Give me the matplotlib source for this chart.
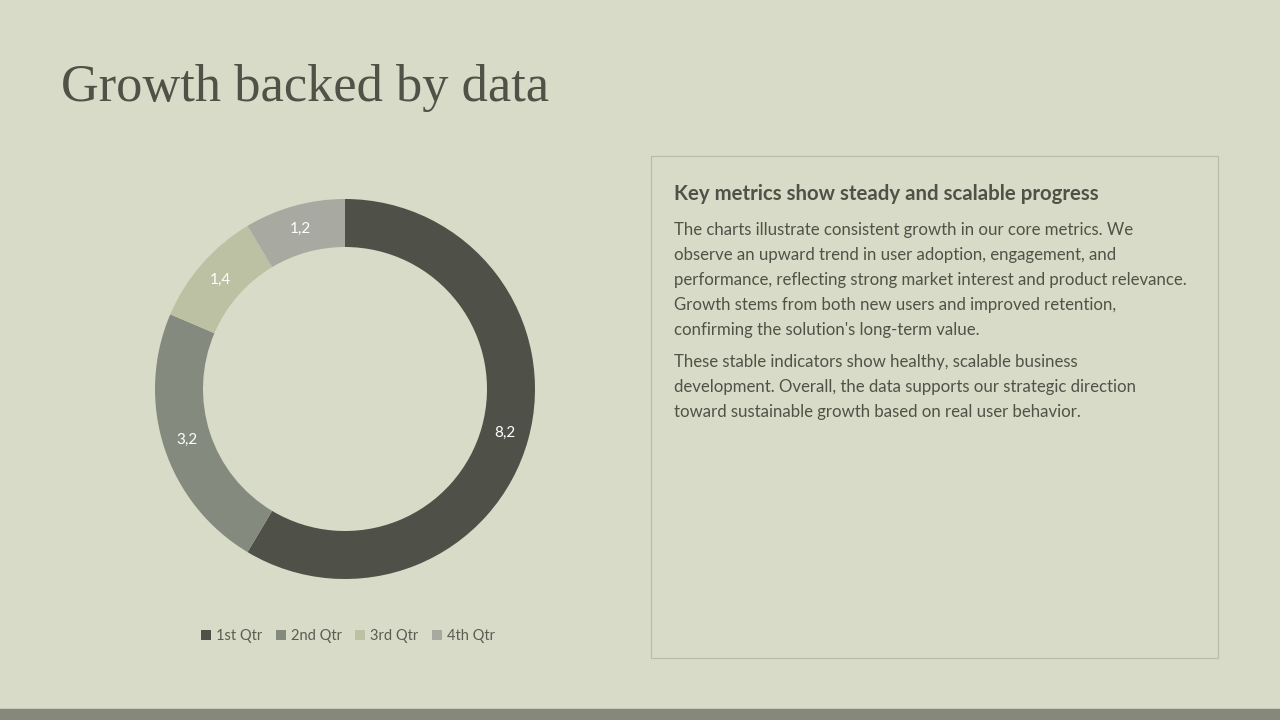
import matplotlib
matplotlib.use("Agg")
import matplotlib.pyplot as plt
from matplotlib.patches import Rectangle

BG, DARK, BORDER = "#d8dbc7", "#4f5246", "#b9bcaa"

quarters = ["1st Qtr", "2nd Qtr", "3rd Qtr", "4th Qtr"]
sales = [8.2, 3.2, 1.4, 1.2]
colors = ["#4f5047", "#858a7e", "#bcc1a3", "#a8a9a0"]

title = "Growth backed by data"
heading = "Key metrics show steady and scalable progress"
para1 = ["The charts illustrate consistent growth in our core metrics. We",
         "observe an upward trend in user adoption, engagement, and",
         "performance, reflecting strong market interest and product relevance.",
         "Growth stems from both new users and improved retention,",
         "confirming the solution's long-term value."]
para2 = ["These stable indicators show healthy, scalable business",
         "development. Overall, the data supports our strategic direction",
         "toward sustainable growth based on real user behavior."]

W, H = 1280, 720
SANS = "Lato"
fig = plt.figure(figsize=(12.8, 7.2), dpi=100, facecolor=BG)

def fx(x): return x / W
def fy(y): return 1 - y / H

# bottom band
fig.patches.append(Rectangle((0, 0), 1, fy(709), transform=fig.transFigure,
                             color="#85887b", zorder=0))

fig.text(fx(61), fy(101), title, family="Liberation Serif", fontsize=37.7,
         color=DARK, va="baseline")

# donut
cx, cy, R = 345, 389, 190
ax = fig.add_axes([fx(cx - R), fy(cy + R), 2 * R / W, 2 * R / H])
total = sum(sales)
wedges, _, autot = ax.pie(
    sales, colors=colors, startangle=90, counterclock=False,
    wedgeprops=dict(width=48 / R, linewidth=0),
    autopct=lambda p: f"{p * total / 100:.1f}".replace(".", ","),
    pctdistance=(R - 24) / R,
    textprops=dict(color="white", fontsize=11, family=SANS))
ax.set_xlim(-1, 1); ax.set_ylim(-1, 1)
ax.set_aspect("equal")

fig.legend(wedges, quarters, loc="center", bbox_to_anchor=(fx(348), fy(636)),
           ncol=4, frameon=False, handlelength=0.7, handleheight=0.7,
           handletextpad=0.35, columnspacing=0.9,
           prop=dict(family=SANS, size=10.5), labelcolor="#5a5d52")

# text box
fig.patches.append(Rectangle((fx(651), fy(658)), fx(1218 - 651), (658 - 156) / H,
                             transform=fig.transFigure, fill=False,
                             edgecolor=BORDER, linewidth=0.9))
fig.text(fx(674), fy(194), heading, family=SANS, fontsize=14.7,
         fontweight="bold", color=DARK, va="center")
for i, line in enumerate(para1):
    fig.text(fx(674), fy(230 + 25 * i), line, family=SANS, fontsize=12.1,
             color=DARK, va="center")
for i, line in enumerate(para2):
    fig.text(fx(674), fy(362 + 25 * i), line, family=SANS, fontsize=12.1,
             color=DARK, va="center")

fig.savefig("out.png", dpi=100, facecolor=BG)
